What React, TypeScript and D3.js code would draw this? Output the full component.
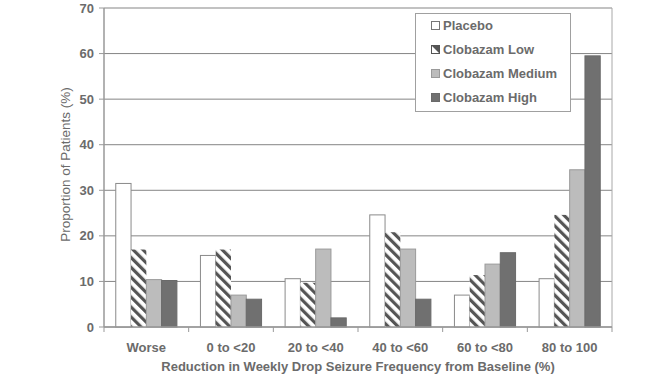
import React from "react";
import * as d3 from "d3";

const categories = ["Worse", "0 to <20", "20 to <40", "40 to <60", "60 to <80", "80 to 100"];
const seriesNames = ["Placebo", "Clobazam Low", "Clobazam Medium", "Clobazam High"];
const placebo = [31.5, 15.7, 10.6, 24.6, 7.0, 10.6];
const clobazamLow = [17.0, 17.0, 9.7, 20.8, 11.4, 24.6];
const clobazamMedium = [10.4, 7.0, 17.1, 17.1, 13.8, 34.5];
const clobazamHigh = [10.2, 6.1, 2.0, 6.1, 16.3, 59.5];
const yTicks = [0, 10, 20, 30, 40, 50, 60, 70];

const W = 664, H = 375;
const M = { left: 104, right: 52, top: 8, bottom: 48 };
const TEXT = "#6b6b6b";
const FONT = "'Liberation Sans', Arial, sans-serif";

export default function App() {
  const series = [placebo, clobazamLow, clobazamMedium, clobazamHigh];
  const x0 = d3.scaleBand<string>().domain(categories).range([M.left, W - M.right]).paddingInner(0).paddingOuter(0);
  const x1 = d3.scaleBand<string>().domain(seriesNames).range([0, x0.bandwidth()]).paddingOuter(0.77).paddingInner(0);
  const y = d3.scaleLinear().domain([0, 70]).range([H - M.bottom, M.top]);
  const fills = ["#ffffff", "url(#hatch)", "#bcbcbc", "#707070"];
  const strokes = ["#8a8a8a", "none", "#9a9a9a", "#6a6a6a"];
  const y0 = y(0);
  return (
    <svg width={W} height={H} style={{ position: "absolute", left: 0, top: 0, background: "#fff" }}>
      <defs>
        <pattern id="hatch" patternUnits="userSpaceOnUse" width="7" height="7" patternTransform="rotate(-45)">
          <rect width="7" height="7" fill="#ffffff" />
          <rect x="0" y="0" width="3.2" height="7" fill="#555555" />
        </pattern>
      </defs>
      {yTicks.map((t) => (
        <line key={t} x1={M.left} x2={W - M.right} y1={y(t)} y2={y(t)} stroke="#858585" strokeWidth={1} />
      ))}
      <line x1={W - M.right} x2={W - M.right} y1={y(70)} y2={y0} stroke="#a8a8a8" />
      {series.map((vals, si) =>
        vals.map((v, ci) => (
          <rect
            key={`${si}-${ci}`}
            x={(x0(categories[ci]) as number) + (x1(seriesNames[si]) as number)}
            y={y(v)}
            width={x1.bandwidth()}
            height={y0 - y(v)}
            fill={fills[si]}
            stroke={strokes[si]}
            strokeWidth={1}
          />
        ))
      )}
      <line x1={M.left} x2={M.left} y1={y(70)} y2={y0} stroke="#999" strokeWidth={1.5} />
      {yTicks.map((t) => (
        <g key={t}>
          <line x1={M.left - 5} x2={M.left} y1={y(t)} y2={y(t)} stroke="#999" />
          <text x={M.left - 10} y={y(t)} dy="0.35em" textAnchor="end" fontFamily={FONT} fontWeight="bold" fontSize={13} fill={TEXT}>
            {t}
          </text>
        </g>
      ))}
      <line x1={M.left} x2={W - M.right} y1={y0} y2={y0} stroke="#999" strokeWidth={1.5} />
      {categories.map((c) => (
        <g key={c}>
          <line x1={(x0(c) as number) + x0.bandwidth()} x2={(x0(c) as number) + x0.bandwidth()} y1={y0} y2={y0 + 5} stroke="#999" />
          <text x={(x0(c) as number) + x0.bandwidth() / 2} y={y0 + 25} textAnchor="middle" fontFamily={FONT} fontWeight="bold" fontSize={13} fill={TEXT}>
            {c}
          </text>
        </g>
      ))}
      <line x1={M.left} x2={M.left} y1={y0} y2={y0 + 5} stroke="#999" />
      <text x={(M.left + W - M.right) / 2} y={y0 + 44} textAnchor="middle" fontFamily={FONT} fontWeight="bold" fontSize={13} fill={TEXT}>
        Reduction in Weekly Drop Seizure Frequency from Baseline (%)
      </text>
      <text transform={`translate(70, 164.5) rotate(-90)`} textAnchor="middle" fontFamily={FONT} fontSize={13.5} fill={TEXT}>
        Proportion of Patients (%)
      </text>
      <g>
        <rect x={415.5} y={13.5} width={155} height={98} fill="#fff" stroke="#a0a0a0" />
        {seriesNames.map((s, i) => (
          <g key={s} transform={`translate(431, ${25 + i * 24})`}>
            <rect x={0.5} y={-3.5} width={8} height={8} fill={fills[i] === "url(#hatch)" ? "#fff" : fills[i]} stroke={i === 0 ? "#777" : strokes[i] === "none" ? "#555" : strokes[i]} />
            {i === 1 && <path d="M0.5,-3.5 L8.5,4.5 L8.5,-3.5 Z" fill="#555" />}
            <text x={12} y={0} dy="0.35em" fontFamily={FONT} fontWeight="bold" fontSize={13} fill={TEXT}>
              {s}
            </text>
          </g>
        ))}
      </g>
    </svg>
  );
}
